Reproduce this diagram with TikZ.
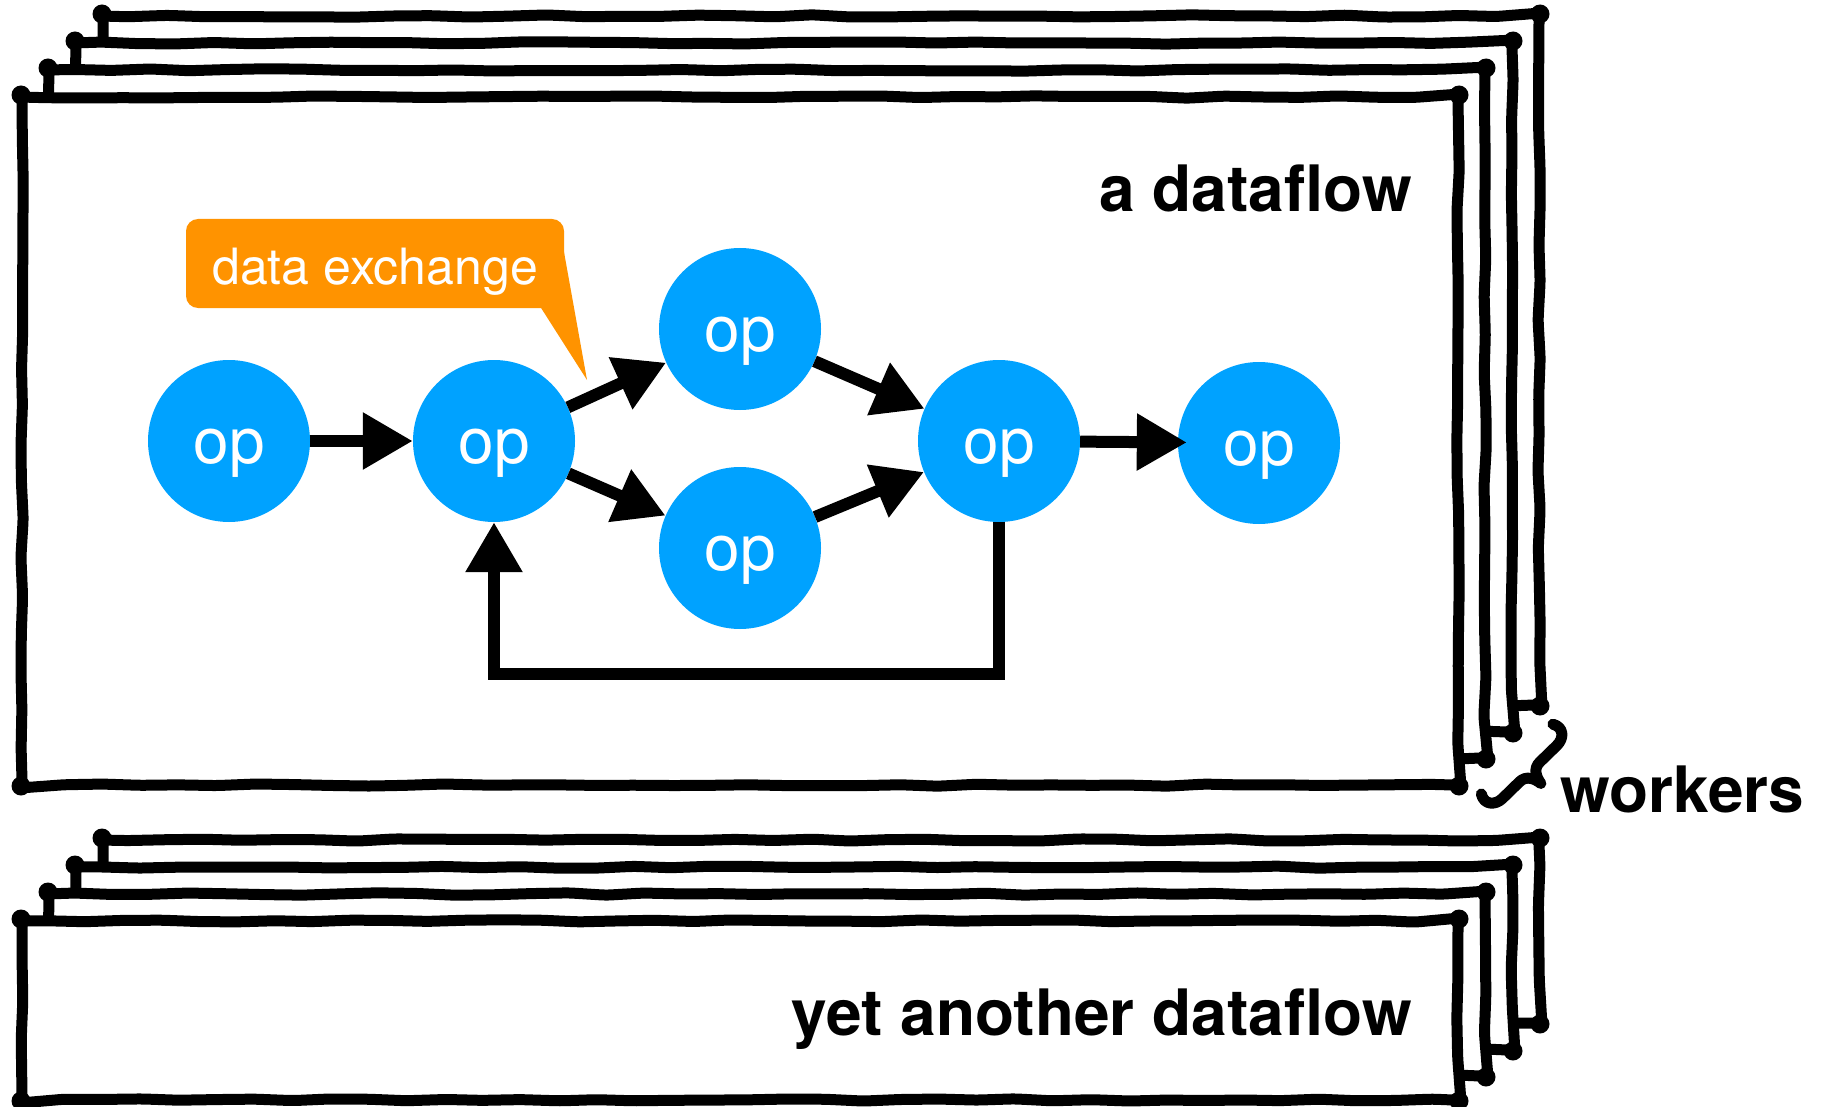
\documentclass[tikz,border=0pt]{standalone}
\usepackage{fontspec}
\setmainfont{TeX Gyre Heros}
\usetikzlibrary{arrows.meta,decorations.pathmorphing}
\definecolor{opblue}{RGB}{0,162,255}
\definecolor{callorange}{RGB}{255,147,0}
\newcommand\mysketchbox[4]{%
  \draw[sketchline] (#1,#2) rectangle (#3,#4);
  \fill (#1-1,#2-2) circle (9.5);
  \fill (#3+1,#2-2) circle (9.5);
  \fill (#3+1,#4+1) circle (9.5);
  \fill (#1-1,#4+1) circle (9.5);
}
\begin{document}
\begin{tikzpicture}[x=1pt,y=-1pt,
  sketchline/.style={draw=black, line width=11pt, fill=white, line join=round,
    decorate, decoration={random steps, segment length=38pt, amplitude=1.2pt},
    rounded corners=5pt},
  op/.style={circle, fill=opblue, draw=none, minimum size=162pt, inner sep=0pt,
    text=white, font=\fontsize{64pt}{70pt}\selectfont, text height=44pt, text depth=0pt},
  flow/.style={line width=12pt, line join=miter, -{Triangle[length=50pt,width=54pt]}},
  title/.style={font=\fontsize{64pt}{70pt}\selectfont\bfseries, inner sep=0pt}
]
\useasboundingbox (0,0) rectangle (1825,1107);
\pgfmathsetseed{11}

% top stack
\mysketchbox{103}{16}{1539}{705}
\mysketchbox{76}{43}{1512}{732}
\mysketchbox{49}{70}{1485}{758}
\mysketchbox{22}{97}{1458}{785}

% bottom stack
\mysketchbox{103}{840}{1539}{1023}
\mysketchbox{76}{867}{1512}{1050}
\mysketchbox{49}{894}{1485}{1076}
\mysketchbox{22}{921}{1458}{1100}

% titles
\node[title, anchor=base east] (t1) at (1412,212) {a dataflow};
\node[title, anchor=base east] (t2) at (1412,1035) {yet another dataflow};
\node[title, anchor=base west] (tw) at (1560,812) {workers};

% brace (drawn along the diagonal, cusp towards the label)
\coordinate (bA) at (1556,724);
\coordinate (bB) at (1481,797);
\begin{scope}[shift={(1518.5,760.5)}, x={(0.716pt,0.697pt)}, y={(0.697pt,-0.716pt)}]
  \draw[line width=11pt, line cap=round, line join=round]
    (50,-2) .. controls (56,8) and (48,16) .. (38,16) -- (14,16)
    .. controls (5,16) and (1,24) .. (0,32)
    .. controls (-1,24) and (-5,16) .. (-14,16) -- (-38,16)
    .. controls (-48,16) and (-56,8) .. (-50,-2);
\end{scope}

% callout
\fill[callorange] (536,300) -- (587,380) -- (564,252) -- (536,252) -- cycle;
\node[fill=callorange, rounded corners=12pt, minimum width=378pt, minimum height=89pt,
  inner sep=0pt, text=white, font=\fontsize{50pt}{55pt}\selectfont,
  text height=42pt, text depth=0pt] (call) at (375,263.5) {data exchange};

% operators
\node[op] (n1) at (229,441) {op};
\node[op] (n2) at (494,441) {op};
\node[op] (n3) at (740,329) {op};
\node[op] (n4) at (740,548) {op};
\node[op] (n5) at (999,441) {op};
\node[op] (n6) at (1259,443) {op};

\draw[flow] (n1) -- (n2);
\draw[flow] (n2) -- (n3);
\draw[flow] (n2) -- (n4);
\draw[flow] (n3) -- (n5);
\draw[flow] (n4) -- (n5);
\draw[flow, shorten >=-9pt] (n5) -- (n6);
\coordinate (loopR) at (999,674);
\coordinate (loopL) at (494,674);
\draw[flow] (n5) -- (loopR) -- (loopL) -- (n2);
\end{tikzpicture}
\end{document}
